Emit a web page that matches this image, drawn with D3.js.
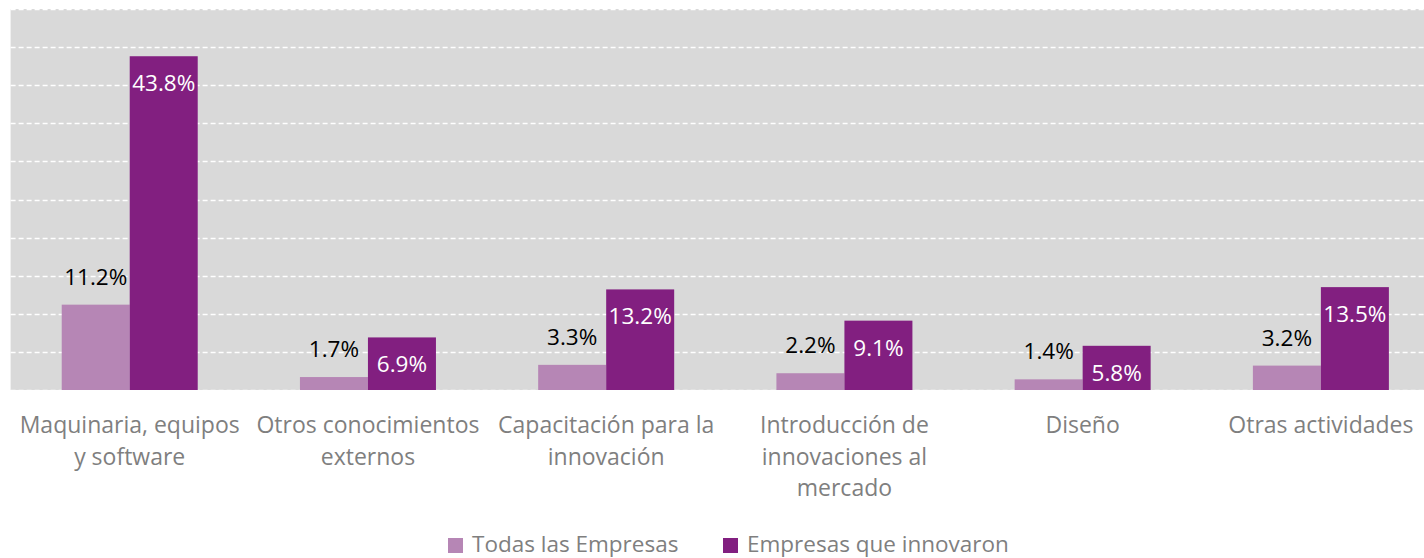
<!DOCTYPE html>
<html>
<head>
<meta charset="utf-8">
<script src="https://cdn.jsdelivr.net/npm/d3@7"></script>
<style>
  body { margin: 0; background: #fff; }
  svg { display: block; font-family: "Open Sans", sans-serif; }
</style>
</head>
<body>
<div id="chart"></div>
<script>
// category tick labels, already split in lines like the original
const categories = [
  ["Maquinaria, equipos", "y software"],
  ["Otros conocimientos", "externos"],
  ["Capacitación para la", "innovación"],
  ["Introducción de", "innovaciones al", "mercado"],
  ["Diseño"],
  ["Otras actividades"]
];
const seriesNames = ["Todas las Empresas", "Empresas que innovaron"];
const todas = [11.2, 1.7, 3.3, 2.2, 1.4, 3.2];
const innovaron = [43.8, 6.9, 13.2, 9.1, 5.8, 13.5];
const yTicks = [0, 5, 10, 15, 20, 25, 30, 35, 40, 45, 50];

const colors = ["#b686b5", "#821f80"];

const width = 1424, height = 558;
const plot = { left: 10.6, right: 1440, top: 9, bottom: 390 };

const svg = d3.select("#chart").append("svg")
  .attr("width", width)
  .attr("height", height);

const catKeys = categories.map(d => d.join(" "));

const x0 = d3.scaleBand()
  .domain(catKeys)
  .range([plot.left, plot.right])
  .padding(0);

const groupW = 136;
const x1 = d3.scaleBand()
  .domain(seriesNames)
  .range([0, groupW])
  .padding(0);

const y = d3.scaleLinear()
  .domain([0, 50])
  .range([plot.bottom, plot.top]);

// gray background
svg.append("rect")
  .attr("x", plot.left)
  .attr("y", plot.top)
  .attr("width", plot.right - plot.left)
  .attr("height", plot.bottom - plot.top)
  .attr("fill", "#d9d9d9");

// dashed gridlines
svg.append("g")
  .selectAll("line")
  .data(yTicks)
  .enter().append("line")
  .attr("x1", plot.left)
  .attr("x2", plot.right)
  .attr("y1", d => Math.round(y(d)) + 0.5)
  .attr("y2", d => Math.round(y(d)) + 0.5)
  .attr("stroke", "#ffffff")
  .attr("stroke-width", 1.3)
  .attr("stroke-dasharray", "5,3");

// build rows for grouped bars
const rows = catKeys.map((c, i) => ({
  cat: c,
  values: [
    { series: seriesNames[0], value: todas[i] },
    { series: seriesNames[1], value: innovaron[i] }
  ]
}));

const groups = svg.append("g")
  .selectAll("g")
  .data(rows)
  .enter().append("g")
  .attr("transform", d => `translate(${x0(d.cat) + (x0.bandwidth() - groupW) / 2},0)`);

groups.selectAll("rect")
  .data(d => d.values)
  .enter().append("rect")
  .attr("x", d => x1(d.series))
  .attr("y", d => y(d.value))
  .attr("width", x1.bandwidth())
  .attr("height", d => plot.bottom - y(d.value))
  .attr("fill", (d, i) => colors[i]);

// value labels: light series above bar, dark series inside the top
groups.selectAll("text.val")
  .data(d => d.values)
  .enter().append("text")
  .attr("class", "val")
  .attr("x", d => x1(d.series) + x1.bandwidth() / 2)
  .attr("y", (d, i) => i === 0 ? y(d.value) - 20 : y(d.value) + 35)
  .attr("text-anchor", "middle")
  .attr("font-size", 22.5)
  .attr("fill", (d, i) => i === 0 ? "#000000" : "#ffffff")
  .text(d => d.value.toFixed(1) + "%");

// category axis labels
const xAxis = svg.append("g");
const labels = xAxis.selectAll("text")
  .data(categories)
  .enter().append("text")
  .attr("x", (d, i) => x0(catKeys[i]) + x0.bandwidth() / 2)
  .attr("y", 433)
  .attr("text-anchor", "middle")
  .attr("font-size", 23)
  .attr("fill", "#7f7f7f");

labels.selectAll("tspan")
  .data(d => d)
  .enter().append("tspan")
  .attr("x", function() { return d3.select(this.parentNode).attr("x"); })
  .attr("dy", (d, i) => i === 0 ? 0 : 31.5)
  .text(d => d);

// legend
const legendX = [448, 723];
const legend = svg.append("g")
  .selectAll("g")
  .data(seriesNames)
  .enter().append("g")
  .attr("transform", (d, i) => `translate(${legendX[i]},538)`);

legend.append("rect")
  .attr("width", 15)
  .attr("height", 15)
  .attr("fill", (d, i) => colors[i]);

legend.append("text")
  .attr("x", 24)
  .attr("y", 14)
  .attr("font-size", 22.5)
  .attr("fill", "#7f7f7f")
  .text(d => d);
</script>
</body>
</html>
